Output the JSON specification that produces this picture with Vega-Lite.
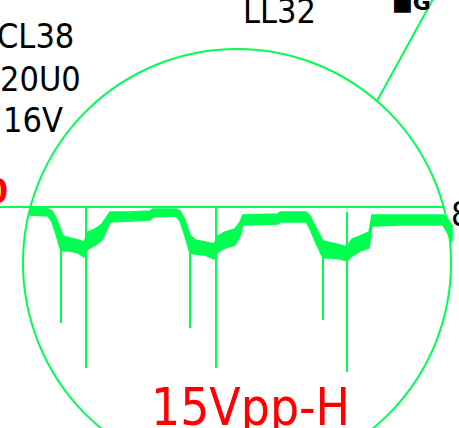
{
  "$schema": "https://vega.github.io/schema/vega-lite/v6.json",
  "width": 459,
  "height": 428,
  "autosize": "none",
  "padding": 0,
  "background": "white",
  "config": {"view": {"stroke": null}, "axis": {"disable": true}},
  "datasets": {
    "band": [
      {"x": 30, "top": 208, "bottom": 215},
      {"x": 48, "top": 209, "bottom": 216},
      {"x": 52, "top": 211, "bottom": 222},
      {"x": 56, "top": 218, "bottom": 234},
      {"x": 60, "top": 228, "bottom": 248},
      {"x": 63, "top": 236, "bottom": 251},
      {"x": 70, "top": 238, "bottom": 251},
      {"x": 78, "top": 240, "bottom": 253},
      {"x": 84, "top": 242, "bottom": 257},
      {"x": 88, "top": 232, "bottom": 249},
      {"x": 95, "top": 229, "bottom": 245},
      {"x": 102, "top": 224, "bottom": 240},
      {"x": 106, "top": 218, "bottom": 232},
      {"x": 110, "top": 212, "bottom": 222},
      {"x": 130, "top": 212, "bottom": 221},
      {"x": 150, "top": 211, "bottom": 220},
      {"x": 153, "top": 209, "bottom": 217},
      {"x": 176, "top": 209, "bottom": 216},
      {"x": 180, "top": 211, "bottom": 221},
      {"x": 185, "top": 220, "bottom": 236},
      {"x": 190, "top": 235, "bottom": 253},
      {"x": 195, "top": 240, "bottom": 254},
      {"x": 205, "top": 242, "bottom": 255},
      {"x": 214, "top": 244, "bottom": 259},
      {"x": 218, "top": 236, "bottom": 252},
      {"x": 225, "top": 232, "bottom": 248},
      {"x": 235, "top": 229, "bottom": 245},
      {"x": 240, "top": 222, "bottom": 236},
      {"x": 243, "top": 215, "bottom": 225},
      {"x": 278, "top": 214, "bottom": 224},
      {"x": 280, "top": 212, "bottom": 222},
      {"x": 306, "top": 212, "bottom": 222},
      {"x": 310, "top": 216, "bottom": 229},
      {"x": 316, "top": 228, "bottom": 243},
      {"x": 323, "top": 241, "bottom": 258},
      {"x": 332, "top": 243, "bottom": 258},
      {"x": 340, "top": 245, "bottom": 259},
      {"x": 347, "top": 247, "bottom": 261},
      {"x": 352, "top": 239, "bottom": 256},
      {"x": 360, "top": 236, "bottom": 251},
      {"x": 369, "top": 232, "bottom": 248},
      {"x": 372, "top": 215, "bottom": 226},
      {"x": 400, "top": 215, "bottom": 225},
      {"x": 443, "top": 215, "bottom": 225},
      {"x": 447, "top": 218, "bottom": 232},
      {"x": 452, "top": 226, "bottom": 242}
    ],
    "spikes": [
      {"x": 61, "y1": 245, "y2": 323},
      {"x": 86, "y1": 207, "y2": 368},
      {"x": 190, "y1": 248, "y2": 328},
      {"x": 216, "y1": 207, "y2": 368},
      {"x": 323, "y1": 250, "y2": 320},
      {"x": 347, "y1": 212, "y2": 372}
    ],
    "hline": [{"x1": 0, "x2": 443, "y": 207}],
    "diag": [{"x": 377, "y": 101}, {"x": 438, "y": -10}],
    "circle": [{"x": 237, "y": 263}],
    "blackLabels": [
      {"x": -3, "y": 48, "label": "CL38"},
      {"x": 0, "y": 91, "label": "20U0"},
      {"x": 3, "y": 132, "label": "16V"},
      {"x": 243, "y": 23, "label": "LL32"},
      {"x": 451, "y": 226, "label": "8"}
    ],
    "redBig": [{"x": 151, "y": 425, "label": "15Vpp-H"}],
    "redSmall": [{"x": 8, "y": 203, "label": "0"}],
    "symbol": [{"x": 392, "y": 10, "label": "■G"}]
  },
  "layer": [
    {
      "data": {"name": "circle"},
      "mark": {"type": "point", "shape": "circle", "size": 183184, "filled": false, "stroke": "#00ff50", "strokeWidth": 2, "opacity": 1},
      "encoding": {
        "x": {"field": "x", "type": "quantitative", "scale": {"domain": [0, 459], "nice": false, "zero": false}},
        "y": {"field": "y", "type": "quantitative", "scale": {"domain": [0, 428], "nice": false, "zero": false, "reverse": true}}
      }
    },
    {
      "data": {"name": "hline"},
      "mark": {"type": "rule", "color": "#00ff50", "strokeWidth": 2},
      "encoding": {
        "x": {"field": "x1", "type": "quantitative", "scale": {"domain": [0, 459], "nice": false, "zero": false}},
        "x2": {"field": "x2"},
        "y": {"field": "y", "type": "quantitative", "scale": {"domain": [0, 428], "nice": false, "zero": false, "reverse": true}}
      }
    },
    {
      "data": {"name": "diag"},
      "mark": {"type": "line", "color": "#00ff50", "strokeWidth": 2, "clip": false},
      "encoding": {
        "x": {"field": "x", "type": "quantitative", "scale": {"domain": [0, 459], "nice": false, "zero": false}},
        "y": {"field": "y", "type": "quantitative", "scale": {"domain": [0, 428], "nice": false, "zero": false, "reverse": true}}
      }
    },
    {
      "data": {"name": "spikes"},
      "mark": {"type": "rule", "color": "#00ff50", "strokeWidth": 2},
      "encoding": {
        "x": {"field": "x", "type": "quantitative", "scale": {"domain": [0, 459], "nice": false, "zero": false}},
        "y": {"field": "y1", "type": "quantitative", "scale": {"domain": [0, 428], "nice": false, "zero": false, "reverse": true}},
        "y2": {"field": "y2"}
      }
    },
    {
      "data": {"name": "band"},
      "mark": {"type": "area", "color": "#00ff50", "opacity": 1, "stroke": "#00ff50", "strokeWidth": 1.5, "orient": "vertical"},
      "encoding": {
        "x": {"field": "x", "type": "quantitative", "scale": {"domain": [0, 459], "nice": false, "zero": false}},
        "y": {"field": "top", "type": "quantitative", "scale": {"domain": [0, 428], "nice": false, "zero": false, "reverse": true}},
        "y2": {"field": "bottom"}
      }
    },
    {
      "data": {"name": "blackLabels"},
      "mark": {"type": "text", "align": "left", "baseline": "alphabetic", "fontSize": 34, "font": "DejaVu Sans Condensed, Liberation Sans, sans-serif", "color": "#000000"},
      "encoding": {
        "x": {"field": "x", "type": "quantitative", "scale": {"domain": [0, 459], "nice": false, "zero": false}},
        "y": {"field": "y", "type": "quantitative", "scale": {"domain": [0, 428], "nice": false, "zero": false, "reverse": true}},
        "text": {"field": "label"}
      }
    },
    {
      "data": {"name": "redBig"},
      "mark": {"type": "text", "align": "left", "baseline": "alphabetic", "fontSize": 51, "font": "DejaVu Sans Condensed, Liberation Sans, sans-serif", "color": "#ff0000"},
      "encoding": {
        "x": {"field": "x", "type": "quantitative", "scale": {"domain": [0, 459], "nice": false, "zero": false}},
        "y": {"field": "y", "type": "quantitative", "scale": {"domain": [0, 428], "nice": false, "zero": false, "reverse": true}},
        "text": {"field": "label"}
      }
    },
    {
      "data": {"name": "redSmall"},
      "mark": {"type": "text", "align": "right", "baseline": "alphabetic", "fontSize": 34, "font": "DejaVu Sans Condensed, Liberation Sans, sans-serif", "color": "#ff0000", "fontWeight": "bold"},
      "encoding": {
        "x": {"field": "x", "type": "quantitative", "scale": {"domain": [0, 459], "nice": false, "zero": false}},
        "y": {"field": "y", "type": "quantitative", "scale": {"domain": [0, 428], "nice": false, "zero": false, "reverse": true}},
        "text": {"field": "label"}
      }
    },
    {
      "data": {"name": "symbol"},
      "mark": {"type": "text", "align": "left", "baseline": "alphabetic", "fontSize": 22, "font": "DejaVu Sans", "fontWeight": "bold", "color": "#000000"},
      "encoding": {
        "x": {"field": "x", "type": "quantitative", "scale": {"domain": [0, 459], "nice": false, "zero": false}},
        "y": {"field": "y", "type": "quantitative", "scale": {"domain": [0, 428], "nice": false, "zero": false, "reverse": true}},
        "text": {"field": "label"}
      }
    }
  ]
}
